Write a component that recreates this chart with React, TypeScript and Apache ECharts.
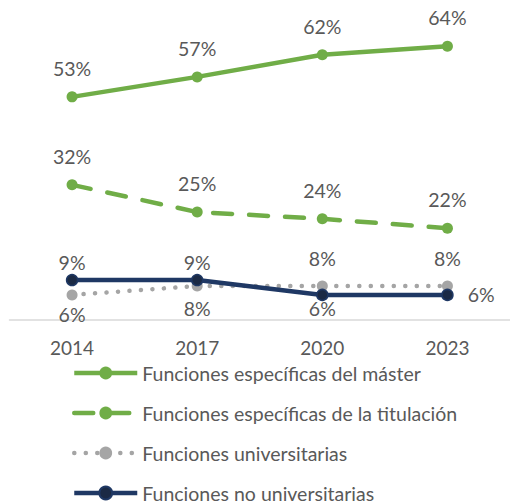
import React, { useEffect, useRef } from "react";
import * as echarts from "echarts";

const years = ["2014", "2017", "2020", "2023"];
const seriesNames = [
  "Funciones específicas del máster",
  "Funciones específicas de la titulación",
  "Funciones universitarias",
  "Funciones no universitarias",
];
const master = [52.5, 57.2, 62.4, 64.4];
const titulacion = [31.8, 25.4, 23.8, 21.6];
const universitarias = [5.9, 8.0, 8.0, 8.0];
const noUniversitarias = [9.4, 9.4, 5.9, 5.9];

// label placement per point (position, distance)
const univLabelPos: [string, number][] = [
  ["bottom", 4],
  ["bottom", 7],
  ["top", 12],
  ["top", 12],
];
const noUnivLabelPos: [string, number][] = [
  ["top", 1],
  ["top", 1],
  ["bottom", -3],
  ["right", 14],
];

const FONT = "Lato";
const TXT = "#595959";

export default function App() {
  const ref = useRef<HTMLDivElement>(null);
  useEffect(() => {
    document.body.style.margin = "0";
    if (!ref.current) return;
    const chart = echarts.init(ref.current, undefined, { renderer: "svg" });
    const fmt = (p: any) => Math.round(p.value) + "%";
    const baseLabel = {
      show: true,
      position: "top",
      distance: 13,
      color: TXT,
      fontSize: 19.5,
      fontFamily: FONT,
      formatter: fmt,
    };
    const withPos = (vals: number[], pos: [string, number][]) =>
      vals.map((v, i) => ({
        value: v,
        label: { position: pos[i][0], distance: pos[i][1] },
      }));
    chart.setOption({
      animation: false,
      grid: { left: 9.5, right: -6.5, top: 1.25, bottom: 184, containLabel: false },
      xAxis: {
        type: "category",
        data: years,
        boundaryGap: true,
        axisLine: { show: true, lineStyle: { color: "#D9D9D9", width: 1.5 } },
        axisTick: { show: false },
        axisLabel: { color: TXT, fontSize: 19, fontFamily: FONT, margin: 18 },
      },
      yAxis: {
        type: "value",
        min: 0,
        max: 75,
        show: false,
        splitLine: { show: false },
      },
      legend: {
        orient: "vertical",
        left: 72,
        top: 363,
        padding: 0,
        height: 141,
        itemWidth: 63,
        itemHeight: 16,
        itemGap: 20,
        lineStyle: { width: 4.5 },
        textStyle: { color: TXT, fontSize: 19.5, fontFamily: FONT },
        data: seriesNames,
      },
      series: [
        {
          name: seriesNames[0],
          type: "line",
          data: master,
          symbol: "circle",
          symbolSize: 11,
          color: "#70AD47",
          lineStyle: { width: 4.5, color: "#70AD47" },
          itemStyle: { color: "#70AD47" },
          label: baseLabel,
        },
        {
          name: seriesNames[1],
          type: "line",
          data: titulacion,
          symbol: "circle",
          symbolSize: 11,
          color: "#70AD47",
          lineStyle: { width: 4.5, color: "#70AD47", type: [19, 17], cap: "round" },
          itemStyle: { color: "#70AD47" },
          label: baseLabel,
        },
        {
          name: seriesNames[2],
          type: "line",
          data: withPos(universitarias, univLabelPos),
          symbol: "circle",
          symbolSize: 11,
          color: "#A5A5A5",
          lineStyle: { width: 4.5, color: "#A5A5A5", type: [0.1, 11.4], cap: "round" },
          itemStyle: { color: "#A5A5A5" },
          label: baseLabel,
        },
        {
          name: seriesNames[3],
          type: "line",
          data: withPos(noUniversitarias, noUnivLabelPos),
          symbol: "circle",
          symbolSize: 11,
          color: "#1F3864",
          lineStyle: { width: 4.5, color: "#1F3864" },
          itemStyle: { color: "#1B2A45", borderColor: "#1F3864", borderWidth: 1.5 },
          label: baseLabel,
        },
      ],
    });
    return () => chart.dispose();
  }, []);
  return <div ref={ref} style={{ width: 510, height: 504 }} />;
}
